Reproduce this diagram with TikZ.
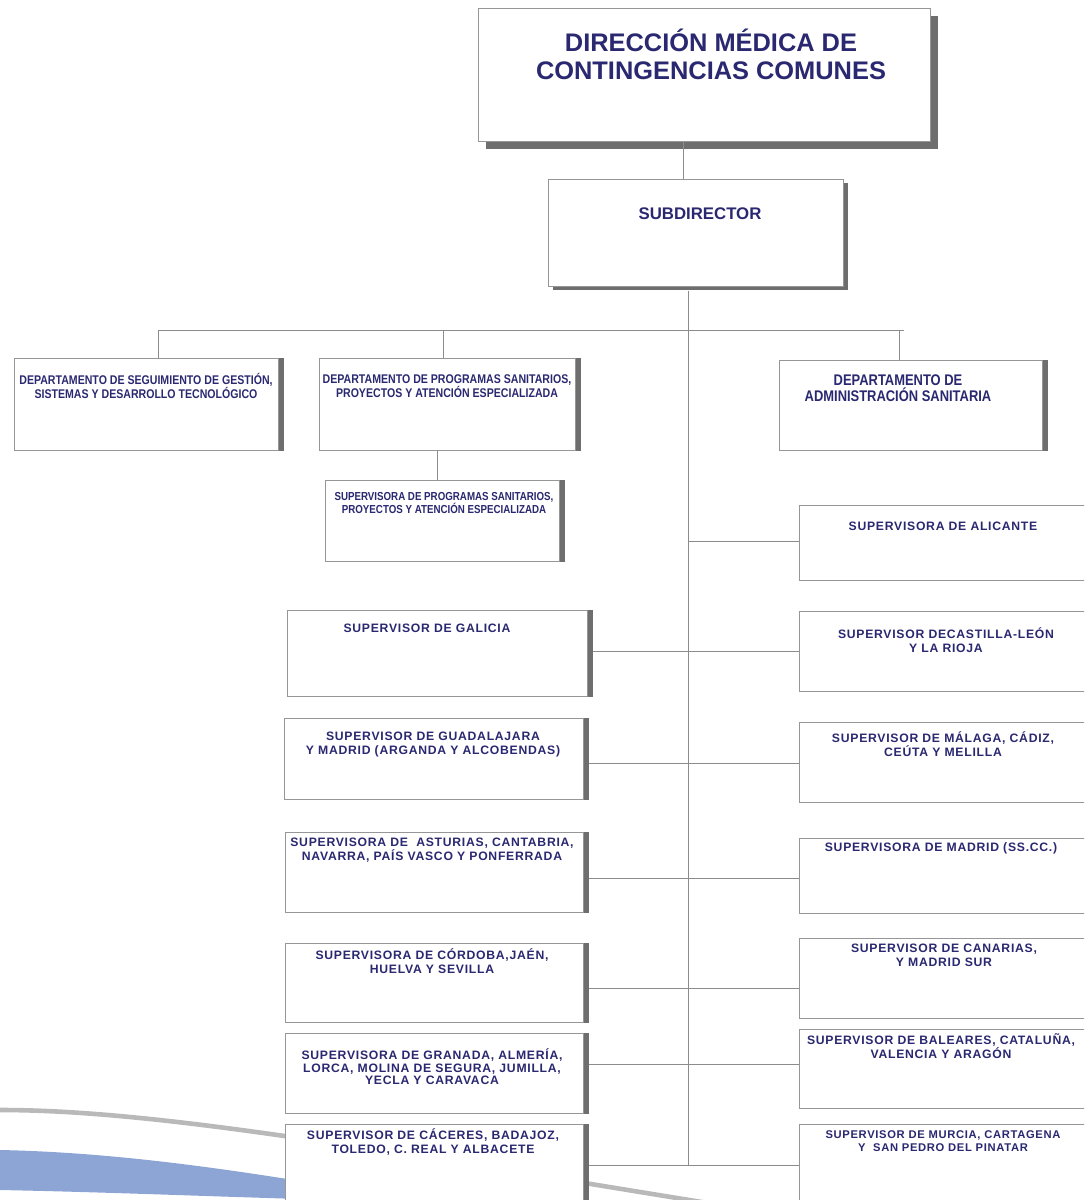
\documentclass[tikz,border=0pt]{standalone}
\usepackage{fontspec}
\setmainfont{Liberation Sans}
\newfontfamily\narrowfont[FakeStretch=0.84]{Liberation Sans}
\newfontfamily\widefont[LetterSpace=6]{Liberation Sans}
\usetikzlibrary{fit,shadows}
\definecolor{navy}{RGB}{42,40,112}
\definecolor{boxgray}{RGB}{150,150,150}
\definecolor{bargray}{RGB}{110,110,110}
\definecolor{linegray}{RGB}{140,140,140}
\definecolor{swblue}{RGB}{140,165,212}
\definecolor{swgray}{RGB}{185,185,185}
\tikzset{
  box/.style={draw=boxgray, line width=0.5pt, fill=white, inner sep=0pt},
  wire/.style={draw=linegray, line width=0.5pt},
  txt/.style={text=navy, align=center, inner sep=0pt},
  title/.style={txt, font=\bfseries\fontsize{12.7}{14}\selectfont},
  head/.style={txt, font=\bfseries\fontsize{8.4}{10}\selectfont},
  dept/.style={txt, font=\narrowfont\bfseries\fontsize{6.3}{7}\selectfont},
  deptbig/.style={txt, font=\narrowfont\bfseries\fontsize{7.7}{8}\selectfont},
  sup/.style={txt, font=\widefont\bfseries\fontsize{6.1}{7}\selectfont},
  supsmall/.style={txt, font=\widefont\bfseries\fontsize{5.6}{6.2}\selectfont},
}
\begin{document}
\begin{tikzpicture}[x=0.5pt,y=-0.5pt]
  \clip (0,0) rectangle (1084,1200);
  % swoosh at the bottom
  \fill[swblue] (0,1150) .. controls (100,1152) and (200,1165) .. (300,1181)
    -- (300,1199) .. controls (200,1196) and (100,1192) .. (0,1190) -- cycle;
  \draw[swgray, line width=2.3pt] (0,1110) .. controls (150,1110) and (350,1145) .. (720,1205);

  % boxes
  \node[box, fit={(478,8) (930,141)},
    drop shadow={shadow xshift=4pt, shadow yshift=-4pt, fill=bargray, opacity=1}] (dir) {};
  \node[box, fit={(548,179) (843,286)},
    drop shadow={shadow xshift=2.5pt, shadow yshift=-2pt, fill=bargray, opacity=1}] (sub) {};
  \node[box, fit={(14,358) (278,450)}] (seg) {};
  \node[box, fit={(319,358) (575,450)}] (prog) {};
  \node[box, fit={(779,360) (1042,450)}] (adm) {};
  \node[box, fit={(325,480) (559,561)}] (supP) {};
  \node[box, fit={(287,610) (587,696)}] (gal) {};
  \node[box, fit={(284,718) (583,799)}] (gua) {};
  \node[box, fit={(285,832) (583,912)}] (ast) {};
  \node[box, fit={(285,943) (583,1022)}] (cor) {};
  \node[box, fit={(285,1033) (583,1113)}] (gra) {};
  \node[box, fit={(285,1124) (583,1204)}] (cac) {};
  \node[box, fit={(799,505) (1100,580)}] (ali) {};
  \node[box, fit={(799,611) (1100,691)}] (cas) {};
  \node[box, fit={(799,722) (1100,802)}] (mal) {};
  \node[box, fit={(799,838) (1100,913)}] (mad) {};
  \node[box, fit={(799,938) (1100,1018)}] (can) {};
  \node[box, fit={(799,1029) (1100,1108)}] (bal) {};
  \node[box, fit={(799,1124) (1100,1206)}] (mur) {};
  \foreach \n in {seg,prog,adm,supP,gal,gua,ast,cor,gra,cac}
    \fill[bargray] (\n.north east) rectangle ([xshift=2.5pt]\n.south east);

  % texts
  \node[title] (t-dir) at (711,54) {DIRECCIÓN MÉDICA DE\\ CONTINGENCIAS COMUNES};
  \node[head] (t-sub) at (700,214) {SUBDIRECTOR};
  \node[dept] (t-seg) at (146,386) {DEPARTAMENTO DE SEGUIMIENTO DE GESTIÓN,\\ SISTEMAS Y DESARROLLO TECNOLÓGICO};
  \node[dept] (t-prog) at (447,386) {DEPARTAMENTO DE PROGRAMAS SANITARIOS,\\ PROYECTOS Y ATENCIÓN ESPECIALIZADA};
  \node[deptbig] (t-adm) at (898,388) {DEPARTAMENTO DE\\ ADMINISTRACIÓN SANITARIA};
  \node[dept, font=\narrowfont\bfseries\fontsize{5.8}{6.5}\selectfont] (t-supP) at (444,503) {SUPERVISORA DE PROGRAMAS SANITARIOS,\\ PROYECTOS Y ATENCIÓN ESPECIALIZADA};
  \node[sup] (t-gal) at (427,628) {SUPERVISOR DE GALICIA};
  \node[sup] (t-gua) at (433,744) {SUPERVISOR DE GUADALAJARA\\ Y MADRID (ARGANDA Y ALCOBENDAS)};
  \node[sup] (t-ast) at (432,850) {SUPERVISORA DE \ ASTURIAS, CANTABRIA,\\ NAVARRA, PAÍS VASCO Y PONFERRADA};
  \node[sup] (t-cor) at (432,961) {SUPERVISORA DE CÓRDOBA,JAÉN,\\ HUELVA Y SEVILLA};
  \node[sup, font=\widefont\bfseries\fontsize{6.1}{6.3}\selectfont] (t-gra) at (432,1067) {SUPERVISORA DE GRANADA, ALMERÍA,\\ LORCA, MOLINA DE SEGURA, JUMILLA,\\ YECLA Y CARAVACA};
  \node[sup] (t-cac) at (433,1142) {SUPERVISOR DE CÁCERES, BADAJOZ,\\ TOLEDO, C. REAL Y ALBACETE};
  \node[sup] (t-ali) at (943,526) {SUPERVISORA DE ALICANTE};
  \node[sup] (t-cas) at (946,640) {SUPERVISOR DECASTILLA-LEÓN\\ Y LA RIOJA};
  \node[sup] (t-mal) at (943,744) {SUPERVISOR DE MÁLAGA, CÁDIZ,\\ CEÚTA Y MELILLA};
  \node[sup] (t-mad) at (941,848) {SUPERVISORA DE MADRID (SS.CC.)};
  \node[sup] (t-can) at (944,955) {SUPERVISOR DE CANARIAS,\\ Y MADRID SUR};
  \node[sup] (t-bal) at (941,1046) {SUPERVISOR DE BALEARES, CATALUÑA,\\ VALENCIA Y ARAGÓN};
  \node[supsmall] (t-mur) at (943,1141) {SUPERVISOR DE MURCIA, CARTAGENA\\ Y \ SAN PEDRO DEL PINATAR};

  % connectors
  \coordinate (top) at (683,0);
  \coordinate (bus) at (688,330);
  \coordinate (busL) at (158,330);
  \coordinate (busP) at (443,330);
  \coordinate (busA) at (899,330);
  \coordinate (busR) at (904,330);
  \draw[wire] (dir.south -| top) -- (sub.north -| top);
  \draw[wire] ([yshift=-2pt]sub.south -| bus) -- (bus |- 0,1165);
  \draw[wire] (busL) -- (busR);
  \draw[wire] (busL) -- (busL |- seg.north);
  \draw[wire] (busP) -- (busP |- prog.north);
  \draw[wire] (busA) -- (busA |- adm.north);
  \draw[wire] ([xshift=-2.5pt]prog.south -| supP.north) -- ([xshift=-2.5pt]supP.north);
  \draw[wire] (bus |- 0,541) -- (ali.west |- 0,541);
  \foreach \l/\r/\y in {gal/cas/651, gua/mal/763, ast/mad/878, cor/can/988, gra/bal/1064, cac/mur/1165}
    \draw[wire] ([xshift=2.5pt]\l.east |- 0,\y) -- (\r.west |- 0,\y);
\end{tikzpicture}
\end{document}
